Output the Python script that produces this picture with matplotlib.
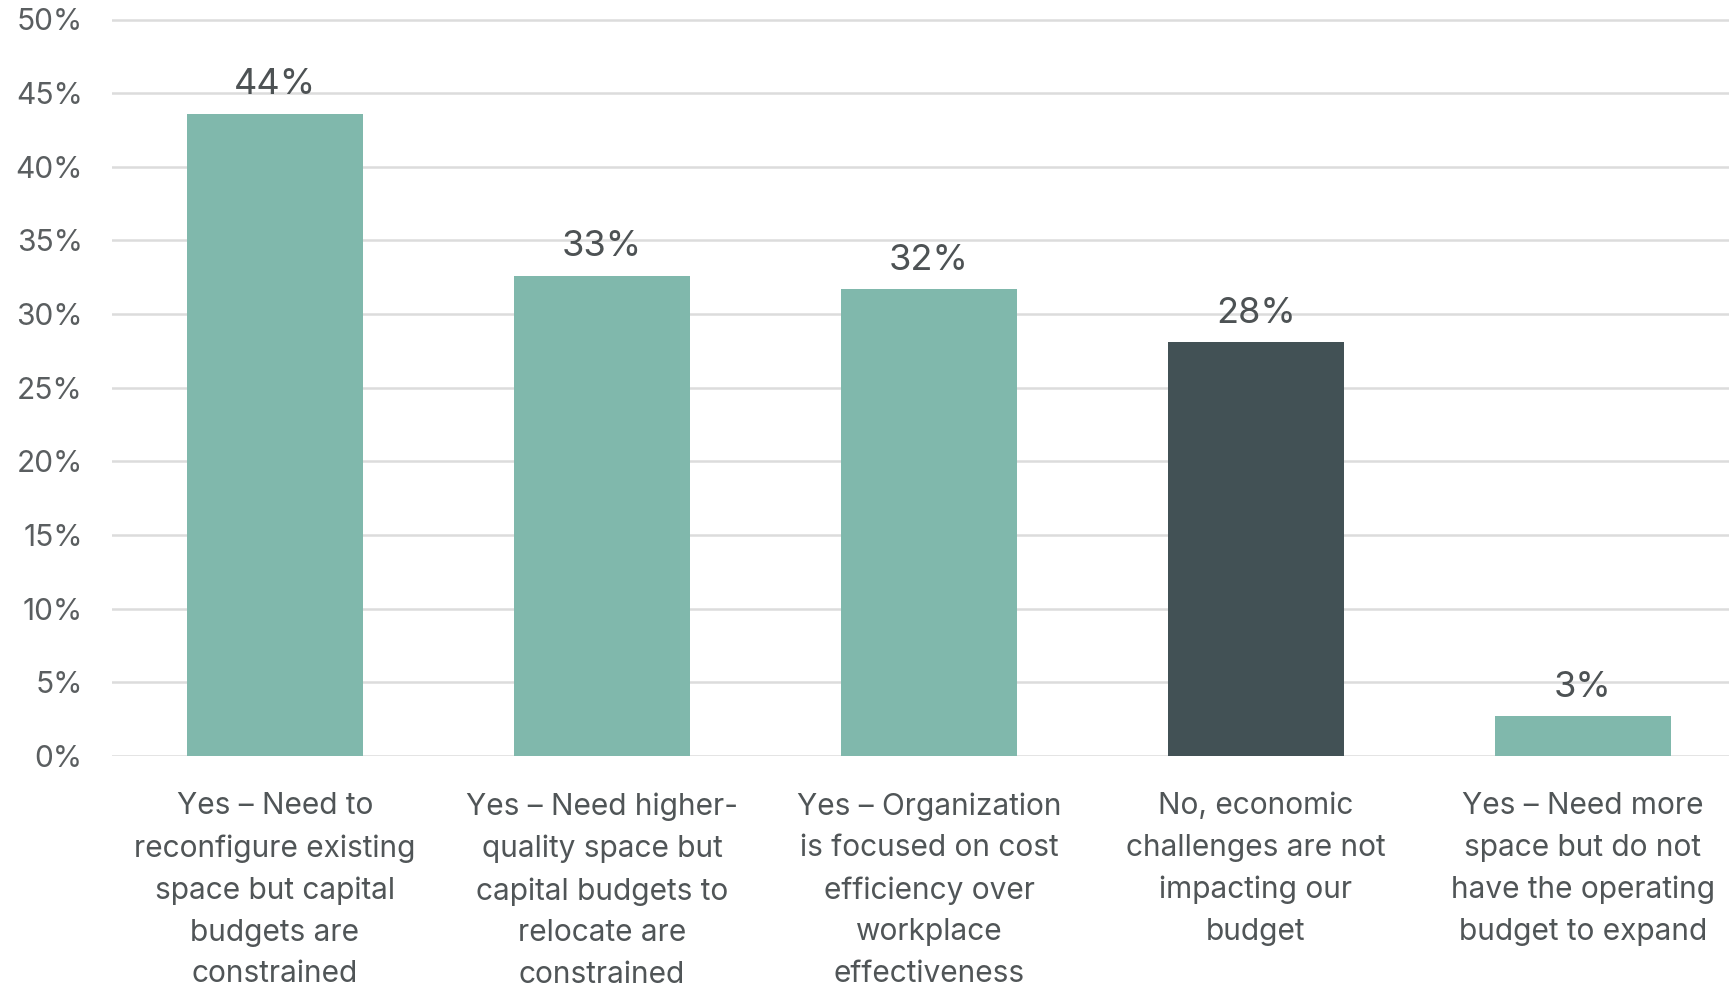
import matplotlib
matplotlib.use("Agg")
import matplotlib.pyplot as plt
from matplotlib.ticker import FuncFormatter

# Survey responses: share of respondents per answer (percent)
categories = [
    "Yes – Need to\nreconfigure existing\nspace but capital\nbudgets are\nconstrained",
    "Yes – Need higher-\nquality space but\ncapital budgets to\nrelocate are\nconstrained",
    "Yes – Organization\nis focused on cost\nefficiency over\nworkplace\neffectiveness",
    "No, economic\nchallenges are not\nimpacting our\nbudget",
    "Yes – Need more\nspace but do not\nhave the operating\nbudget to expand",
]
values = [43.6, 32.6, 31.7, 28.1, 2.7]
bar_colors = ["#80b8ac", "#80b8ac", "#80b8ac", "#425155", "#80b8ac"]
yticks = [0, 5, 10, 15, 20, 25, 30, 35, 40, 45, 50]

plt.rcParams["font.family"] = ["Inter", "DejaVu Sans"]

W, H = 1729, 989
fig = plt.figure(figsize=(W / 100, H / 100), dpi=100)
fig.patch.set_facecolor("white")

left_px, bottom_px = 112, 756
px_per_unit = (756 - 19.5) / 50.0
ymax = 50.5
ax = fig.add_axes([left_px / W, 1 - bottom_px / H,
                   (W - left_px) / W, ymax * px_per_unit / H])

x = list(range(len(categories)))
ax.bar(x, values, width=0.54, color=bar_colors, zorder=3)

# x range: first bar centred at 275px, 327px between bars
first_c, step = 275, 327
ax.set_xlim(-(first_c - left_px) / step, (W - first_c) / step)
ax.set_ylim(0, ymax)

ax.set_yticks(yticks)
ax.yaxis.set_major_formatter(FuncFormatter(lambda v, p: f"{v:.0f}%"))
ax.grid(axis="y", color="#dcdcdc", linewidth=1.8, zorder=0)
ax.grid(axis="x", visible=False)
for s in ax.spines.values():
    s.set_visible(False)

ax.tick_params(axis="y", length=0, pad=21, labelsize=21.5, labelcolor="#5a5e60")
ax.set_xticks(x)
ax.set_xticklabels(categories, fontsize=21.5, color="#505557",
                   linespacing=1.62)
ax.tick_params(axis="x", length=0, pad=26)

for xi, v in zip(x, values):
    ax.annotate(f"{round(v):.0f}%", (xi, v), xytext=(0, 14),
                textcoords="offset points", ha="center", va="baseline",
                fontsize=26, color="#4d5254")

fig.savefig("out.png", dpi=100, facecolor="white")
